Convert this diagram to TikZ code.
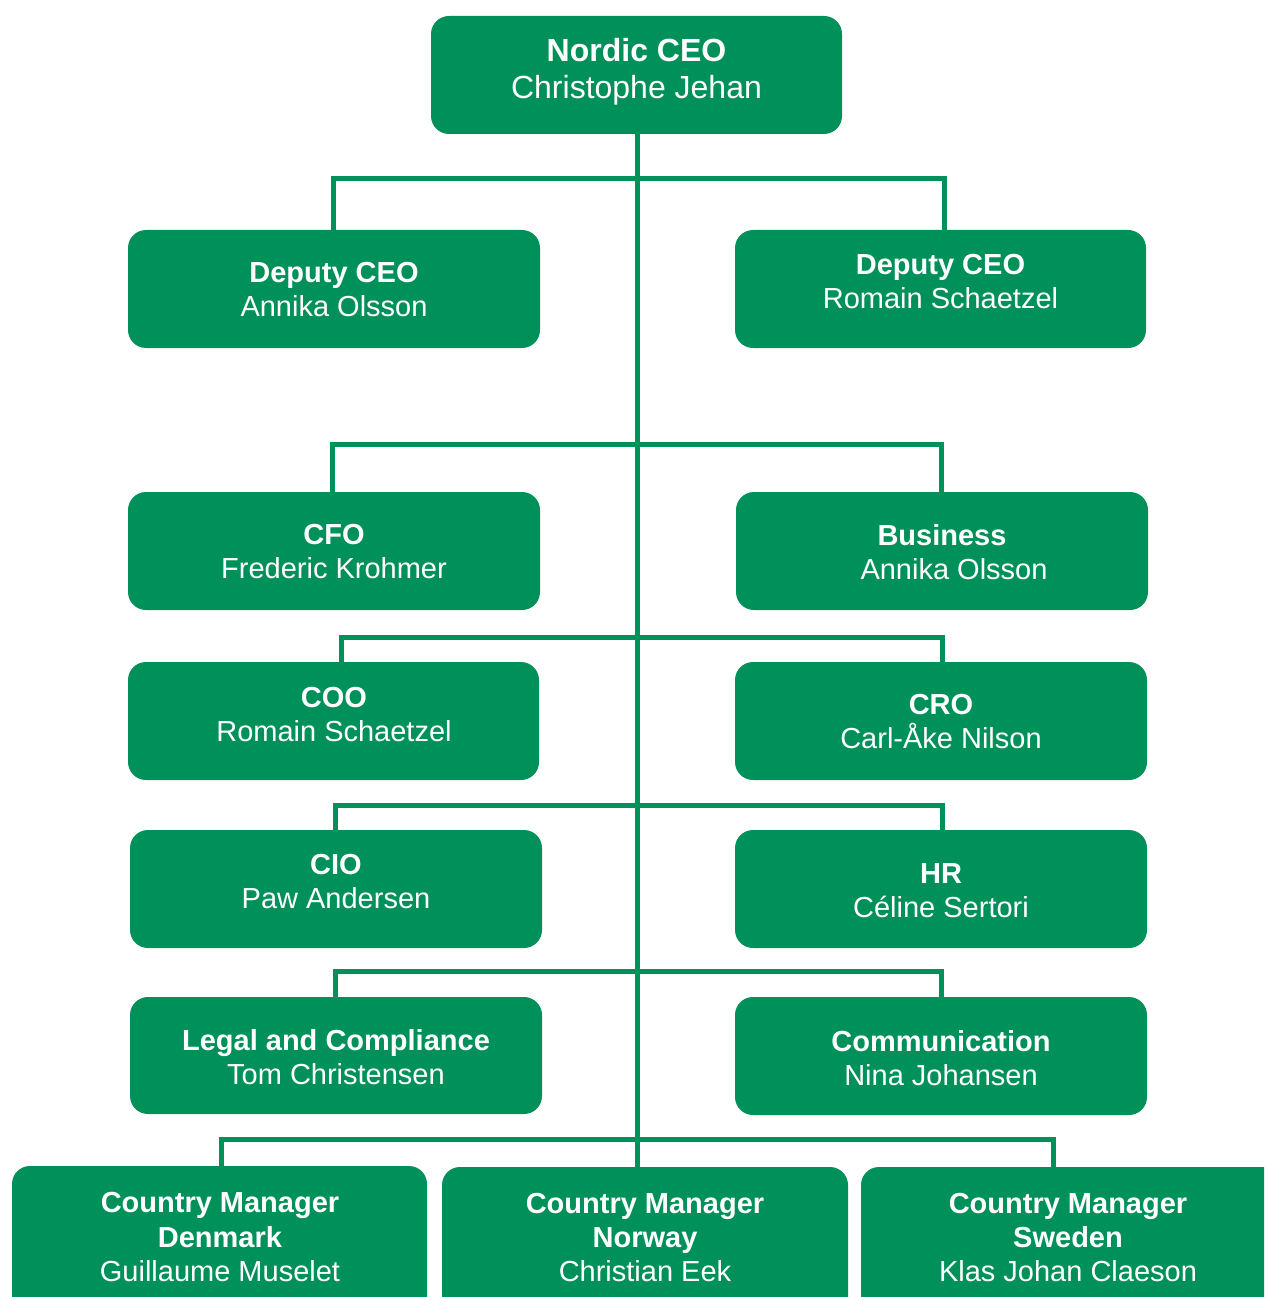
\documentclass[tikz,border=0pt]{standalone}
\usepackage{fontspec}
\setmainfont{Liberation Sans}
\definecolor{ngreen}{RGB}{0,145,90}
\begin{document}
\begin{tikzpicture}[x=1pt,y=-1pt,
  box/.style={fill=ngreen,draw=none,rounded corners=18pt,inner sep=0pt},
  txt/.style={text=white,align=center,inner sep=0pt,font=\fontsize{29}{34}\selectfont},
  bigtxt/.style={txt,font=\fontsize{32}{37}\selectfont},
  conn/.style={draw=ngreen,line width=5pt}]
\useasboundingbox (0,0) rectangle (1264,1297);
\clip (0,0) rectangle (1264,1297);
% boxes
\node[box,minimum width=411pt,minimum height=118pt] (ceo) at (636.5,75) {};
\node[box,minimum width=412pt,minimum height=118pt] (dl) at (334,289) {};
\node[box,minimum width=411pt,minimum height=118pt] (dr) at (940.5,289) {};
\node[box,minimum width=412pt,minimum height=118pt] (cfo) at (334,551) {};
\node[box,minimum width=412pt,minimum height=118pt] (bus) at (942,551) {};
\node[box,minimum width=411pt,minimum height=118pt] (coo) at (333.5,721) {};
\node[box,minimum width=412pt,minimum height=118pt] (cro) at (941,721) {};
\node[box,minimum width=412pt,minimum height=118pt] (cio) at (336,889) {};
\node[box,minimum width=412pt,minimum height=118pt] (hr) at (941,889) {};
\node[box,minimum width=412pt,minimum height=117pt] (leg) at (336,1055.5) {};
\node[box,minimum width=412pt,minimum height=118pt] (com) at (941,1056) {};
\node[box,minimum width=415pt,minimum height=170pt] (cm1) at (219.5,1251) {};
\node[box,minimum width=406pt,minimum height=170pt] (cm2) at (645,1252) {};
\node[box,minimum width=420pt,minimum height=170pt] (cm3) at (1071,1252) {};
% texts
\node[bigtxt] (tceo) at (636.5,72) {\textbf{Nordic CEO}\\Christophe Jehan};
\node[txt] (tdl) at (334,290) {\textbf{Deputy CEO}\\Annika Olsson};
\node[txt] (tdr) at (940.5,282) {\textbf{Deputy CEO}\\Romain Schaetzel};
\node[txt] (tcfo) at (334,552) {\textbf{CFO}\\Frederic Krohmer};
\node[txt] (tbus1) at (942,535) {\textbf{Business}};
\node[txt] (tbus2) at (954,569) {Annika Olsson};
\node[txt] (tcoo) at (334,715) {\textbf{COO}\\Romain Schaetzel};
\node[txt] (tcro) at (941,722) {\textbf{CRO}\\Carl-Åke Nilson};
\node[txt] (tcio) at (336,882) {\textbf{CIO}\\Paw Andersen};
\node[txt] (thr) at (941,891) {\textbf{HR}\\Céline Sertori};
\node[txt] (tleg) at (336,1057) {\textbf{Legal and Compliance}\\Tom Christensen};
\node[txt] (tcom) at (941,1058) {\textbf{Communication}\\Nina Johansen};
\node[txt] (tcm1) at (220,1237) {\textbf{Country Manager}\\\textbf{Denmark}\\Guillaume Muselet};
\node[txt] (tcm2) at (645,1238) {\textbf{Country Manager}\\\textbf{Norway}\\Christian Eek};
\node[txt] (tcm3) at (1068,1238) {\textbf{Country Manager}\\\textbf{Sweden}\\Klas Johan Claeson};
% bus coordinates on the trunk
\coordinate (b1) at (637,179);
\coordinate (b2) at (637,444);
\coordinate (b3) at (637,637);
\coordinate (b4) at (637,805);
\coordinate (b5) at (637,971);
\coordinate (b6) at (637,1139);
% connectors
\draw[conn] (ceo.south -| b1) -- (cm2.north -| b1);
\draw[conn] ([xshift=-0.5pt]dl.north) |- (b1) -| ([xshift=3.5pt]dr.north);
\draw[conn] ([xshift=-2pt]cfo.north) |- (b2) -| ([xshift=-1pt]bus.north);
\draw[conn] ([xshift=7.5pt]coo.north) |- (b3) -| ([xshift=1pt]cro.north);
\draw[conn] ([xshift=-1pt]cio.north) |- (b4) -| ([xshift=1pt]hr.north);
\draw[conn] ([xshift=-1pt]leg.north) |- (b5) -| (com.north);
\draw[conn] ([xshift=1.5pt]cm1.north) |- (b6) -| ([xshift=-18pt]cm3.north);
\end{tikzpicture}
\end{document}
